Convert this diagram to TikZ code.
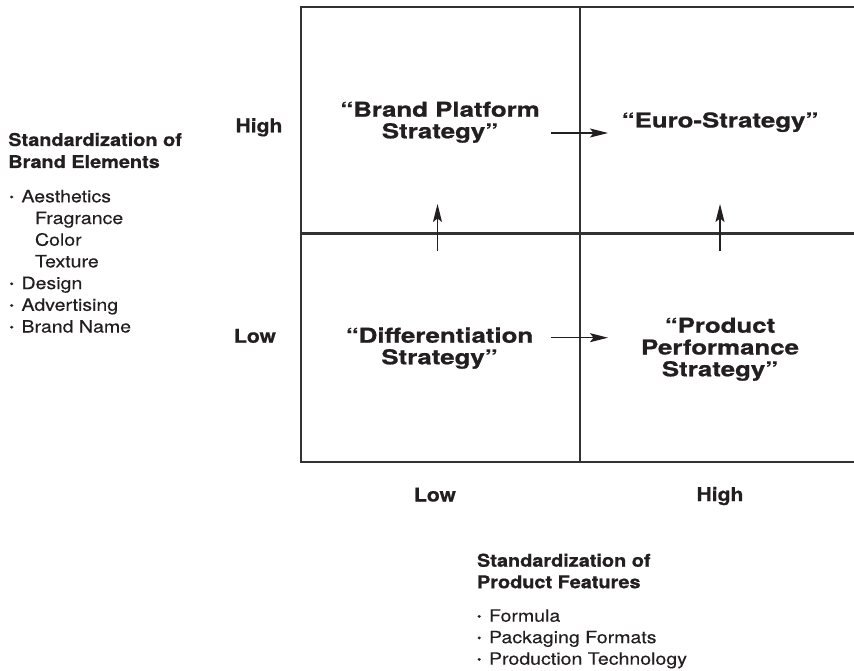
\documentclass[tikz,border=0pt]{standalone}
\usepackage{fontspec}
\setmainfont{TeX Gyre Heros}
\newfontfamily\quadfam{TeX Gyre Heros}[FakeStretch=1.26,BoldFeatures={FakeBold=0.8}]
\newfontfamily\headfam{TeX Gyre Heros}[FakeStretch=1.13,BoldFeatures={FakeBold=0.6}]
\newfontfamily\listfam{TeX Gyre Heros}[FakeStretch=1.15,FakeBold=0.25]
\newfontfamily\axisfam{TeX Gyre Heros}[FakeStretch=1.11,BoldFeatures={FakeBold=0.6}]
\usetikzlibrary{arrows.meta}
\definecolor{ink}{RGB}{35,31,32}
\definecolor{rulecol}{RGB}{50,50,50}
\newcommand\mybul{\makebox[12bp][l]{\raisebox{1.5bp}{\fontsize{11bp}{11bp}\selectfont •}}}
\begin{document}
\begin{tikzpicture}[x=1bp,y=-1bp,
  every node/.style={inner sep=0pt, outer sep=0pt, text=ink},
  quad/.style={font=\quadfam\bfseries\fontsize{20.5bp}{21.7bp}\selectfont, anchor=base},
  head/.style={font=\headfam\bfseries\fontsize{17.6bp}{21.7bp}\selectfont, anchor=base west},
  item/.style={font=\listfam\fontsize{17bp}{21.7bp}\selectfont, anchor=base west},
  axis/.style={font=\axisfam\bfseries\fontsize{19bp}{21.7bp}\selectfont, anchor=base},
  gridline/.style={draw=rulecol, line width=2.2bp},
  move/.style={draw=ink, line width=1.3bp, -{Stealth[length=18bp,width=9bp,inset=3.5bp]}},
]
\useasboundingbox (0,0) rectangle (854,671);
\fill[white] (0,0) rectangle (854,671);
\begin{scope}
\clip (0,0) rectangle (854,671);
\draw[gridline] (875,7) -- (301,7) -- (301,462) -- (875,462);
\draw[gridline] (301,233.5) -- (875,233.5);
\draw[gridline] (580,7) -- (580,462);
\end{scope}

% left block
\node[head] (lh1) at (8.3,146) {Standardization of};
\node[head] (lh2) at (8.3,168) {Brand Elements};
\node[item] (li1) at (9.5,202.3) {\mybul Aesthetics};
\node[item] (li2) at (35,224) {Fragrance};
\node[item] (li3) at (35,245.7) {Color};
\node[item] (li4) at (35,267.4) {Texture};
\node[item] (li5) at (9.5,289.1) {\mybul Design};
\node[item] (li6) at (9.5,310.8) {\mybul Advertising};
\node[item] (li7) at (9.5,332.5) {\mybul Brand Name};

% axis labels
\node[axis] (yhigh) at (259,132.3) {High};
\node[axis] (ylow) at (255,342.7) {Low};
\node[axis] (xlow) at (435,501.5) {Low};
\node[axis] (xhigh) at (720,501) {High};

% bottom block
\node[head] (bh1) at (477,566.7) {Standardization of};
\node[head] (bh2) at (477,588.2) {Product Features};
\node[item] (bi1) at (477,621.7) {\mybul Formula};
\node[item] (bi2) at (477,643.2) {\mybul Packaging Formats};
\node[item] (bi3) at (477,664.7) {\mybul Production Technology};

% quadrants
\node[quad] (bp1) at (440,116.7) {“Brand Platform};
\node[quad] (bp2) at (440,138.3) {Strategy”};
\node[quad] (eu) at (720,127.5) {“Euro-Strategy”};
\node[quad] (df1) at (439.5,342.7) {“Differentiation};
\node[quad] (df2) at (439.5,364.3) {Strategy”};
\node[quad] (pp1) at (720,332.7) {“Product};
\node[quad] (pp2) at (720,354.5) {Performance};
\node[quad] (pp3) at (720,376.3) {Strategy”};

% arrows
\coordinate (a1s) at (550.7,133);
\coordinate (a1e) at (608,133);
\coordinate (a2s) at (550.7,337.7);
\coordinate (a2e) at (608,337.7);
\coordinate (v1s) at (437.5,251);
\coordinate (v1e) at (437.5,204);
\coordinate (v2s) at (720,251);
\coordinate (v2e) at (720,204);
\draw[move] (a1s) -- (a1e);
\draw[move] (a2s) -- (a2e);
\draw[move] (v1s) -- (v1e);
\draw[move] (v2s) -- (v2e);
\end{tikzpicture}
\end{document}
